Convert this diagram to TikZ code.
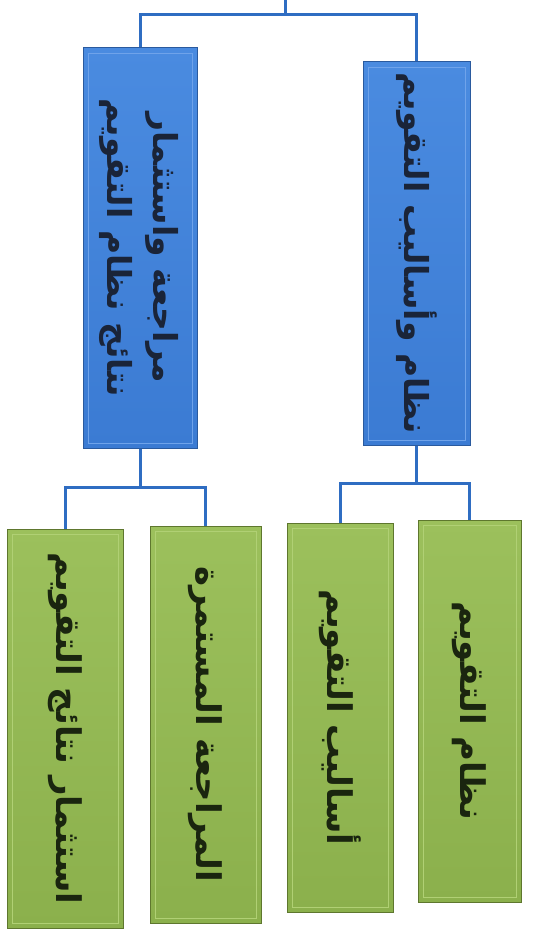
\documentclass[tikz,border=0pt]{standalone}
\usepackage{fontspec}
\newfontfamily\arabicfont[Script=Arabic]{DejaVu Sans}
\TeXXeTstate=1
\usetikzlibrary{calc}
\definecolor{BlueFill}{HTML}{3B7BD3}
\definecolor{BlueTop}{HTML}{4A8BE0}
\definecolor{BlueEdge}{HTML}{2A5A9E}
\definecolor{BlueHi}{HTML}{6FA3EA}
\definecolor{BlueText}{HTML}{1A2438}
\definecolor{GreenFill}{HTML}{8BB04C}
\definecolor{GreenTop}{HTML}{9CC05C}
\definecolor{GreenEdge}{HTML}{5E772E}
\definecolor{GreenHi}{HTML}{B0D074}
\definecolor{GreenText}{HTML}{1A250F}
\definecolor{LineBlue}{HTML}{2F6DC2}
\tikzset{
  boxbase/.style={rectangle, inner sep=0pt, line width=1pt,
    path picture={\draw[#1, line width=0.8pt]
      ($(path picture bounding box.north west)+(5,5)$) rectangle
      ($(path picture bounding box.south east)+(-5,-5)$);}},
  bluebox/.style={boxbase=BlueHi, top color=BlueTop, bottom color=BlueFill, draw=BlueEdge,
    text=BlueText, font=\arabicfont\bfseries\fontsize{33}{46}\selectfont},
  greenbox/.style={boxbase=GreenHi, top color=GreenTop, bottom color=GreenFill, draw=GreenEdge,
    text=GreenText, font=\arabicfont\bfseries\fontsize{34}{46}\selectfont},
  link/.style={draw=LineBlue, line width=3pt}
}
\begin{document}
\begin{tikzpicture}[x=1pt,y=-1pt]
\useasboundingbox[fill=white] (0,0) rectangle (535,933);
% blue boxes
\node[bluebox, minimum width=114, minimum height=400] (b1) at (140,248)
  {\rotatebox{-90}{\begin{tabular}{@{}c@{}}\beginR مراجعة واستثمار\endR\\\beginR نتائج نظام التقويم\endR\end{tabular}}};
\node[bluebox, minimum width=107, minimum height=383] (b2) at (416.5,253.5)
  {\rotatebox{-90}{\beginR نظام وأساليب التقويم\endR}};
% green boxes
\node[greenbox, minimum width=116, minimum height=399] (g1) at (65,728.5)
  {\rotatebox{-90}{\beginR استثمار نتائج التقويم\endR}};
\node[greenbox, minimum width=111, minimum height=397] (g2) at (205.5,724.5)
  {\rotatebox{-90}{\beginR المراجعة المستمرة\endR}};
\node[greenbox, minimum width=106, minimum height=389] (g3) at (340,717.5)
  {\rotatebox{-90}{\beginR أساليب التقويم\endR}};
\node[greenbox, minimum width=103, minimum height=382] (g4) at (469.5,711)
  {\rotatebox{-90}{\beginR نظام التقويم\endR}};
% connectors
\coordinate (root) at (285,0);
\coordinate (rootjoin) at (285,15);
\coordinate (ljoin) at (140,487);
\coordinate (rjoin) at (416.5,483);
\draw[link] (root) -- (rootjoin);
\draw[link] (b1.north) |- (rootjoin) -| (b2.north);
\draw[link] (b1.south) -- (ljoin);
\draw[link] (g1.north) |- (ljoin) -| (g2.north);
\draw[link] (b2.south) -- (rjoin);
\draw[link] (g3.north) |- (rjoin) -| (g4.north);
\end{tikzpicture}
\end{document}
